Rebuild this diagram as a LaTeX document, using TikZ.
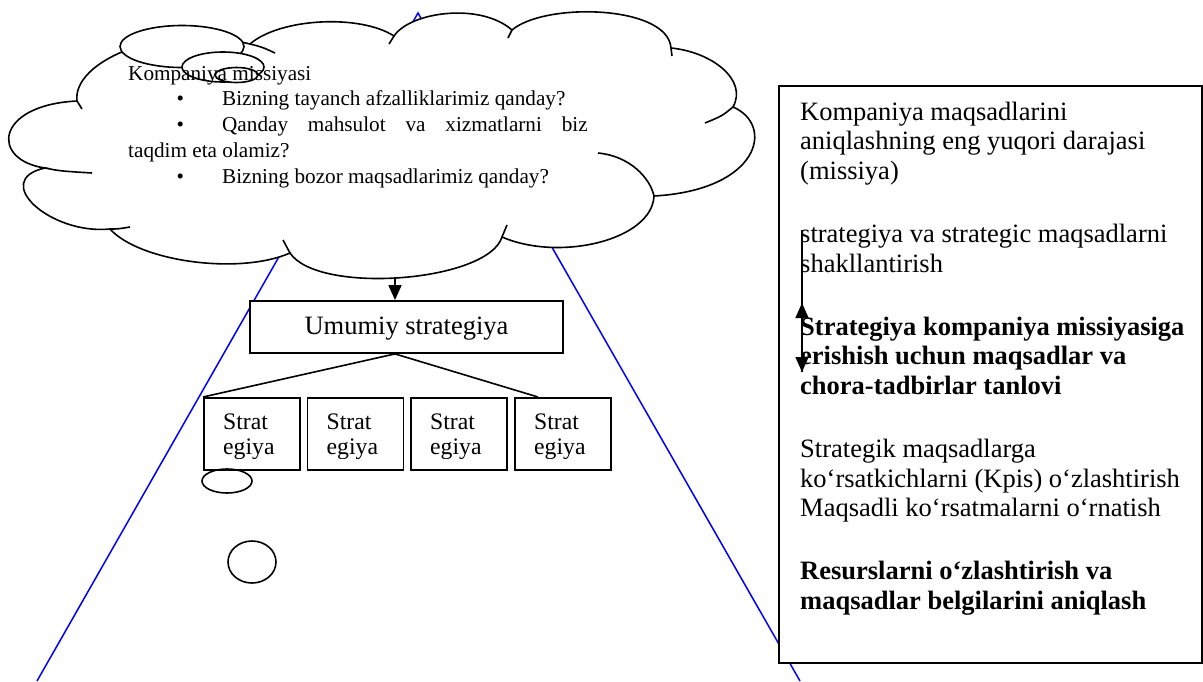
\documentclass[tikz,border=0pt]{standalone}
\usepackage{fontspec}
\setmainfont{Liberation Serif}
\usetikzlibrary{arrows.meta,calc}

% text sizes used in the drawing
\newcommand\bigtxt{\fontsize{26.5}{29.7}\selectfont}
\newcommand\midtxt{\fontsize{23.7}{24.5}\selectfont}
\newcommand\smalltxt{\fontsize{21.2}{25.75}\selectfont}
% bullet column of the mission list
\newcommand\bul{\hbox to 94pt{\hskip48.3pt\textbullet\hss}}
\newcommand\parskipgap{\vskip33.3pt}

\begin{document}
\begin{tikzpicture}[x=1pt,y=-1pt,
  outline/.style={draw=black, line width=1.6pt},
  blueline/.style={draw=blue, line width=1.5pt},
  arrowline/.style={draw=black, line width=1.6pt, -{Triangle[length=15pt,width=13pt]}},
  framebox/.style={draw=black, line width=1.8pt, fill=white, inner sep=0pt},
  stratbox/.style={framebox, minimum width=96pt, minimum height=72pt, anchor=north west},
  plaintext/.style={anchor=base west, inner sep=0pt}
]
\useasboundingbox (0,0) rectangle (1203,681);

% blue triangle behind everything
\coordinate (apex) at (418,13);
\coordinate (footL) at (37,681);
\coordinate (footR) at (800,681);
\draw[blueline] (footL) -- (apex) -- (footR);

% cloud outline
\path[outline, fill=white] (77,101)
  .. controls (72,62) and (160,22) .. (250,44)
  .. controls (280,18) and (360,14) .. (394,36)
  .. controls (410,12) and (480,2) .. (512,30)
  .. controls (545,2) and (668,5) .. (671,48)
  .. controls (712,52) and (748,80) .. (733,107)
  .. controls (775,125) and (760,190) .. (654,196)
  .. controls (652,240) and (560,262) .. (502,237)
  .. controls (488,282) and (318,295) .. (290,253)
  .. controls (240,275) and (140,262) .. (110,229)
  .. controls (50,235) and (-10,180) .. (45,168)
  .. controls (-10,160) and (-5,105) .. (77,101) -- cycle;
% inner ends of the cloud arcs
\draw[outline] (250,44) .. controls (262,47) .. (275,53);
\draw[outline] (389,44) -- (394,36);
\draw[outline] (508,38) -- (512,30);
\draw[outline] (671,48) -- (672,56);
\draw[outline] (733,107) .. controls (722,116) .. (705,123);
\draw[outline] (654,196) .. controls (650,178) and (630,156) .. (598,153);
\draw[outline] (502,237) -- (507,225);
\draw[outline] (290,253) -- (283,240);
\draw[outline] (110,229) .. controls (118,229) .. (130,227);
\draw[outline] (45,168) .. controls (60,171) .. (92,173);
\draw[outline] (77,101) -- (82,109);

% thought bubbles of the cloud
\draw[outline, fill=white] (182,46.5) ellipse [x radius=62, y radius=21];
\draw[outline, fill=white] (223,67) ellipse [x radius=41, y radius=15];
\draw[outline, fill=white] (236.5,75) ellipse [x radius=21.5, y radius=7.5];

% mission text
\node[plaintext] (mission) at (128,80) {\smalltxt\vtop{
  \hbox{Kompaniya missiyasi}
  \hbox{\bul Bizning tayanch afzalliklarimiz qanday?}
  \hbox to 459.5pt{\bul Qanday\hfill mahsulot\hfill va\hfill xizmatlarni\hfill biz}
  \hbox{taqdim eta olamiz?}
  \hbox{\bul Bizning bozor maqsadlarimiz qanday?}}};

% overall strategy
\node[framebox, minimum width=313pt, minimum height=52pt, text height=20pt, text depth=5pt]
  (umumiy) at (406.5,327) {\bigtxt Umumiy strategiya};
\coordinate (cloudbot) at (395,277);
\draw[arrowline] (cloudbot) -- (cloudbot |- umumiy.north);
\coordinate (split) at (cloudbot |- umumiy.south);

% four partial strategies
\foreach \i/\xx in {1/203,2/306.5,3/410,4/514} {
  \node[stratbox] (s\i) at (\xx,397) {};
  \begin{scope}
    \clip (\xx,397) rectangle ++(96,61.5);
    \node[plaintext] (st\i) at (\xx+20,429.5) {\midtxt\vtop{\hbox{Strat}\hbox{egiya}}};
  \end{scope}
}
\draw[outline] (s1.north west) -- (split) -- ($(s4.north west)+(24,0)$);

% small bubbles
\draw[outline] (227,481) ellipse [x radius=25, y radius=12];
\draw[outline] (252,562) ellipse [x radius=24, y radius=21];

% goal levels
\node[framebox, minimum width=423pt, minimum height=577pt, anchor=north west] (goalbox) at (778,85) {};
\node[plaintext] (goals) at (800,120) {\bigtxt\vtop{
  \hbox{Kompaniya maqsadlarini}
  \hbox{aniqlashning eng yuqori darajasi}
  \hbox{(missiya)}
  \parskipgap
  \hbox{strategiya va strategic maqsadlarni}
  \hbox{shakllantirish}
  \parskipgap
  \hbox{\bfseries Strategiya kompaniya missiyasiga}
  \hbox{\bfseries erishish uchun maqsadlar va}
  \hbox{\bfseries chora-tadbirlar tanlovi}
  \parskipgap
  \hbox{Strategik maqsadlarga}
  \hbox{ko‘rsatkichlarni (Kpis) o‘zlashtirish}
  \hbox{Maqsadli ko‘rsatmalarni o‘rnatish}
  \parskipgap
  \hbox{\bfseries Resurslarni o‘zlashtirish va}
  \hbox{\bfseries maqsadlar belgilarini aniqlash}}};

% double arrow between the levels
\coordinate (daTop) at (802,230);
\coordinate (daBot) at (802,372);
\coordinate (daMid) at (802,303);
\draw[arrowline] (daTop) -- (daBot);
\draw[arrowline] (daBot) -- (daMid);
\end{tikzpicture}
\end{document}
